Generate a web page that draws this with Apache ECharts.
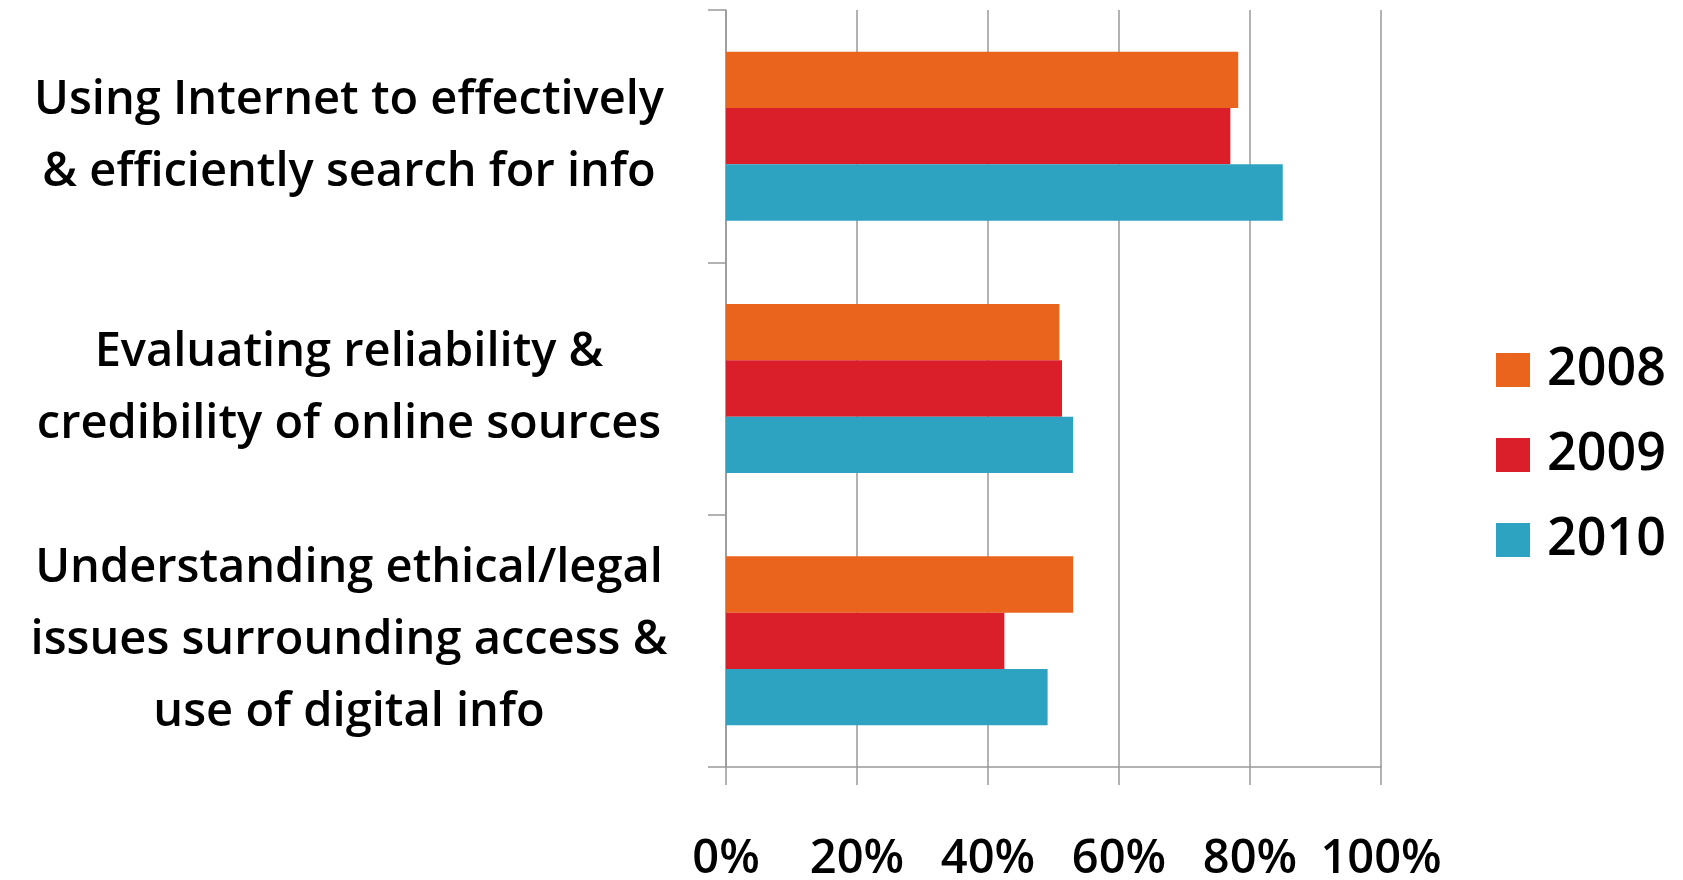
<!DOCTYPE html>
<html>
<head>
<meta charset="utf-8">
<script src="https://cdn.jsdelivr.net/npm/echarts@6/dist/echarts.min.js"></script>
<style>
  html, body { margin: 0; padding: 0; background: #fff; }
  #chart { width: 1683px; height: 880px; }
</style>
</head>
<body>
<div id="chart"></div>
<script>
// data
const categories = [
    'Using Internet to effectively\n& efficiently search for info',
    'Evaluating reliability &\ncredibility of online sources',
    'Understanding ethical/legal\nissues surrounding access &\nuse of digital info'
];
const years = ['2008', '2009', '2010'];
const values2008 = [78.2, 50.9, 53.0];
const values2009 = [77.0, 51.3, 42.5];
const values2010 = [85.0, 53.0, 49.1];
const xTicks = [0, 20, 40, 60, 80, 100];

const colors = ['#EA641E', '#DA1F2A', '#2DA3C1'];
const font = '"Open Sans", "Noto Sans", sans-serif';

let chart = echarts.init(document.getElementById('chart'));

let option = {
    animation: false,
    color: colors,
    grid: { left: 726, right: 302, top: 10, bottom: 113, outerBoundsMode: 'none' },
    legend: {
        orient: 'vertical',
        left: 1491,
        top: 339,
        itemWidth: 34,
        itemHeight: 34,
        itemGap: 33,
        icon: 'rect',
        data: years,
        textStyle: { fontFamily: font, fontSize: 52, fontWeight: 600, color: '#000', padding: [0, 0, 0, 12] }
    },
    xAxis: {
        type: 'value',
        min: xTicks[0],
        max: xTicks[xTicks.length - 1],
        interval: 20,
        axisLine: { show: true, lineStyle: { color: '#999', width: 1.5 } },
        axisTick: { show: true, length: 18, lineStyle: { color: '#999', width: 1.5 } },
        splitLine: { show: true, lineStyle: { color: '#999', width: 1.5 } },
        axisLabel: {
            formatter: '{value}%',
            margin: 69,
            fontFamily: font,
            fontSize: 47,
            fontWeight: 600,
            color: '#000'
        }
    },
    yAxis: {
        type: 'category',
        inverse: true,
        data: categories,
        axisLine: { show: true, lineStyle: { color: '#999', width: 1.5 } },
        axisTick: { show: true, length: 18, lineStyle: { color: '#999', width: 1.5 } },
        axisLabel: {
            margin: 377,
            align: 'center',
            fontFamily: font,
            fontSize: 47,
            fontWeight: 600,
            lineHeight: 72,
            color: '#000',
            padding: [0, 0, 20, 0]
        }
    },
    series: [
        { name: years[0], type: 'bar', data: values2008, barGap: '0%', barCategoryGap: '33%' },
        { name: years[1], type: 'bar', data: values2009, barGap: '0%', barCategoryGap: '33%' },
        { name: years[2], type: 'bar', data: values2010, barGap: '0%', barCategoryGap: '33%' }
    ]
};

chart.setOption(option);
</script>
</body>
</html>
